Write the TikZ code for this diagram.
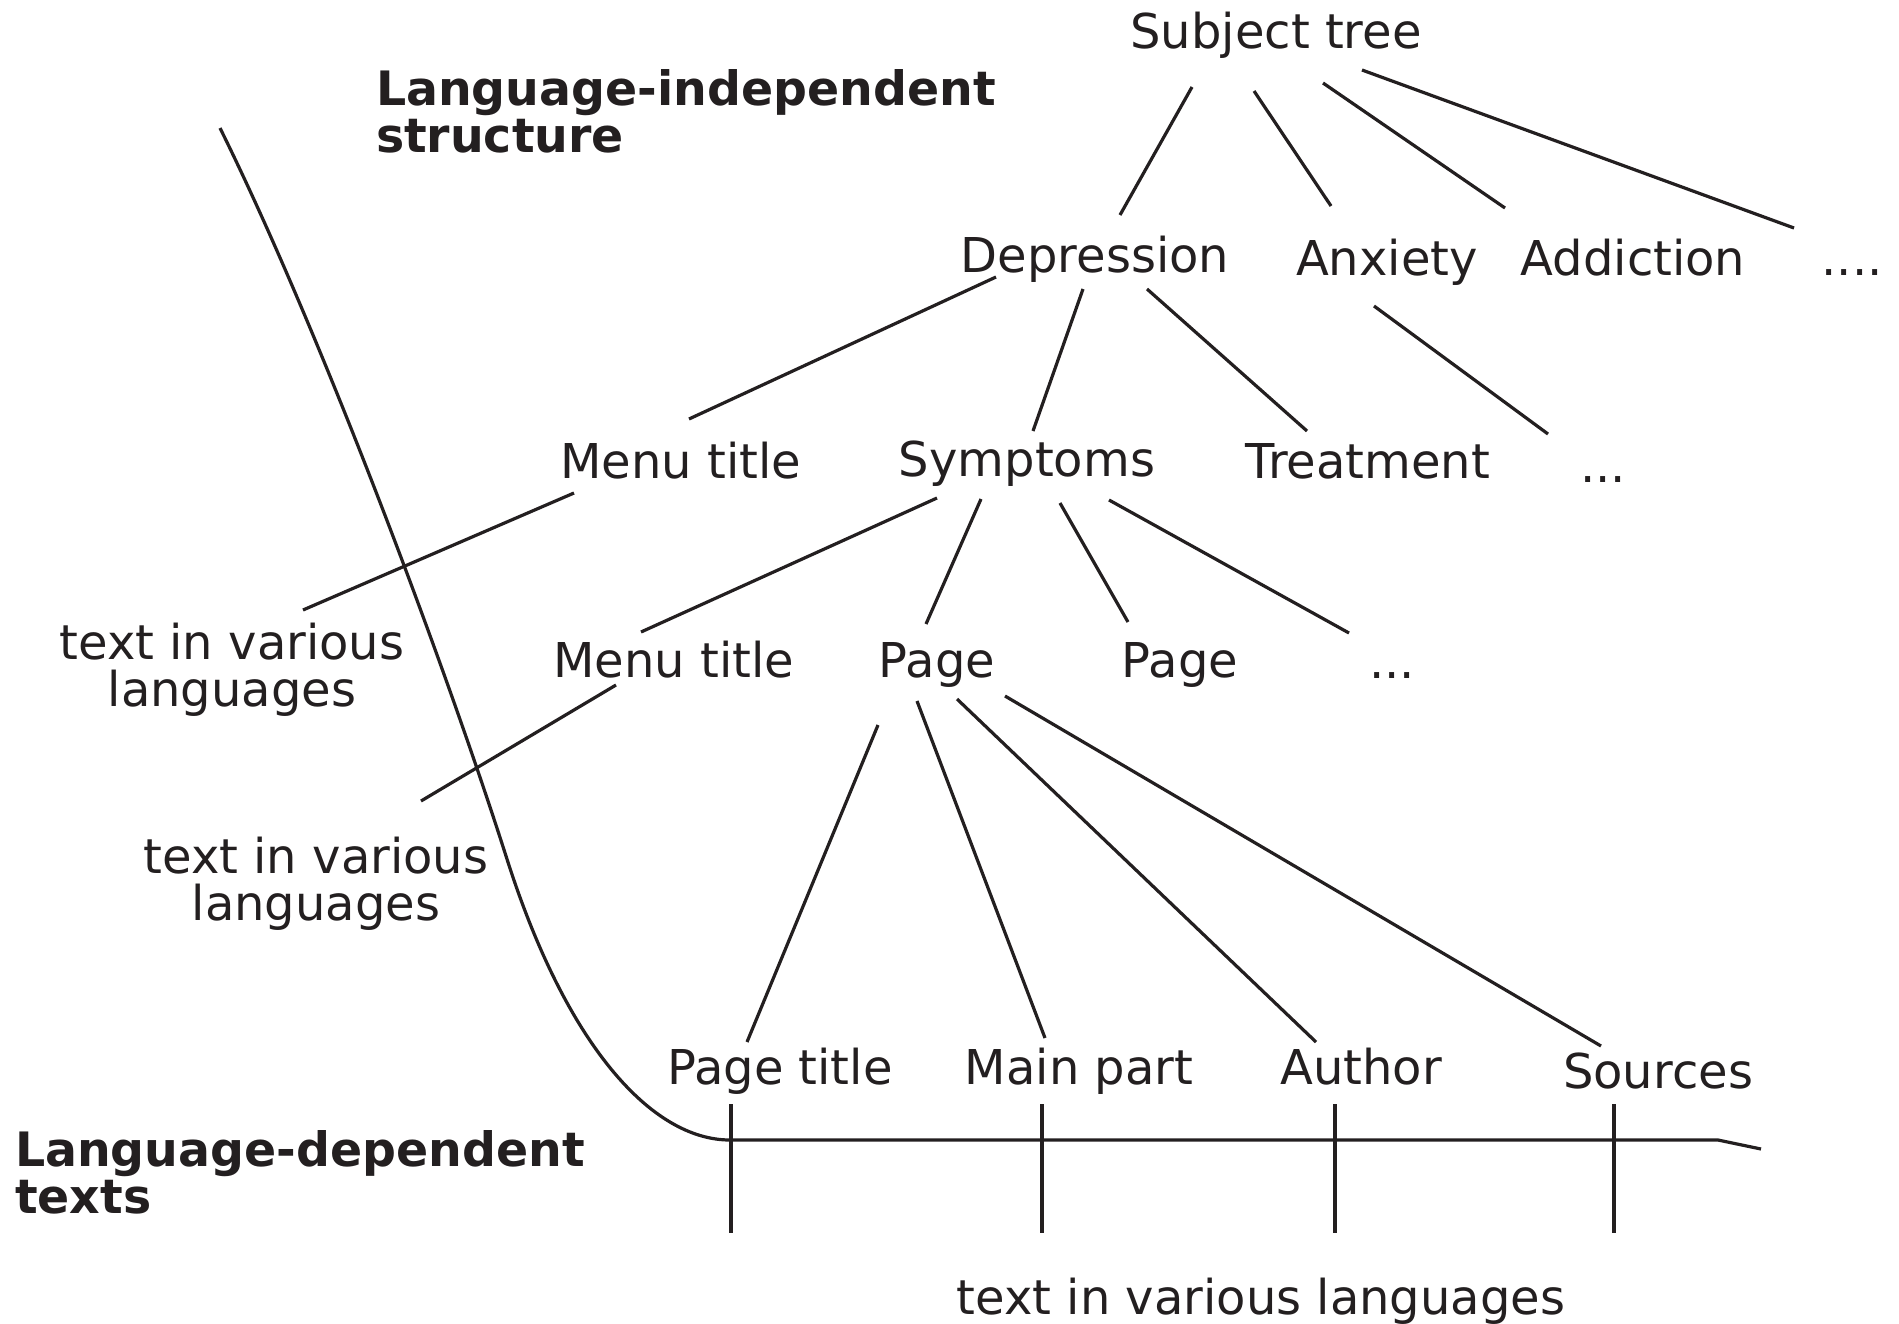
\documentclass[tikz,border=0pt]{standalone}
\usepackage{fontspec}
\setmainfont{DejaVu Sans}
\definecolor{ink}{RGB}{35,31,32}
\begin{document}
\begin{tikzpicture}[x=0.5pt,y=-0.5pt,
  every node/.style={inner sep=0pt,outer sep=0pt,text=ink,font=\fontsize{24}{23.5}\selectfont},
  lbl/.style={anchor=base},
  mlbl/.style={anchor=base,align=center},
  head/.style={anchor=base west,align=left,font=\fontsize{23.7}{23.5}\selectfont\bfseries},
  conn/.style={draw=ink,line width=1.6pt},
  rule/.style={draw=ink,line width=1.6pt}]
\path[use as bounding box] (0,0) rectangle (1899,1323);
% nodes (multi-line nodes are placed by the baseline of their last line)
\node[lbl] (st) at (1276,48) {Subject tree};
\node[head] (lid) at (376,152) {Language-independent\\structure};
\node[lbl] (dep) at (1095,272) {Depression};
\node[lbl] (anx) at (1387,275) {Anxiety};
\node[lbl] (add) at (1633,275) {Addiction};
\node[lbl] (d1) at (1852,275) {....};
\node[lbl] (menu1) at (681,478) {Menu title};
\node[lbl] (sym) at (1027,476) {Symptoms};
\node[lbl] (treat) at (1368,478) {Treatment};
\node[lbl] (d2) at (1603,482) {...};
\node[mlbl] (txt1) at (232,706) {text in various\\languages};
\node[lbl] (menu2) at (674,677) {Menu title};
\node[lbl] (page1) at (937,677) {Page};
\node[lbl] (page2) at (1180,677) {Page};
\node[lbl] (d3) at (1392,678) {...};
\node[mlbl] (txt2) at (316,920) {text in various\\languages};
\node[lbl] (ptitle) at (780,1084) {Page title};
\node[lbl] (main) at (1079,1084) {Main part};
\node[lbl] (author) at (1361,1084) {Author};
\node[lbl] (sources) at (1658,1088) {Sources};
\node[head] (ldt) at (15,1213) {Language-dependent\\texts};
\node[lbl] (bottom) at (1261,1314) {text in various languages};
% connectors
\draw[conn] ([shift={(-84,39)}]st.base) -- ([shift={(25,-57)}]dep.base);
\draw[conn] ([shift={(-22,43)}]st.base) -- ([shift={(-56,-69)}]anx.base);
\draw[conn] ([shift={(47,35)}]st.base) -- ([shift={(-128,-67)}]add.base);
\draw[conn] ([shift={(86,22)}]st.base) -- ([shift={(-58,-47)}]d1.base);
\draw[conn] ([shift={(-99,5)}]dep.base) -- ([shift={(8,-59)}]menu1.base);
\draw[conn] ([shift={(-12,17)}]dep.base) -- ([shift={(6,-45)}]sym.base);
\draw[conn] ([shift={(52,17)}]dep.base) -- ([shift={(-61,-47)}]treat.base);
\draw[conn] ([shift={(-13,31)}]anx.base) -- ([shift={(-55,-48)}]d2.base);
\draw[conn] ([shift={(-107,15)}]menu1.base) -- ([shift={(71,-96)}]txt1.base);
\draw[conn] ([shift={(-90,22)}]sym.base) -- ([shift={(-33,-45)}]menu2.base);
\draw[conn] ([shift={(-46,23)}]sym.base) -- ([shift={(-11,-53)}]page1.base);
\draw[conn] ([shift={(33,27)}]sym.base) -- ([shift={(-52,-55)}]page2.base);
\draw[conn] ([shift={(82,24)}]sym.base) -- ([shift={(-43,-45)}]d3.base);
\draw[conn] ([shift={(-58,8)}]menu2.base) -- ([shift={(105,-119)}]txt2.base);
\draw[conn] ([shift={(-59,48)}]page1.base) -- ([shift={(-33,-42)}]ptitle.base);
\draw[conn] ([shift={(-20,24)}]page1.base) -- ([shift={(-34,-46)}]main.base);
\draw[conn] ([shift={(20,22)}]page1.base) -- ([shift={(-45,-42)}]author.base);
\draw[conn] ([shift={(68,19)}]page1.base) -- ([shift={(-57,-42)}]sources.base);
% separator curve and baseline
\draw[rule,line join=round] (220,128) .. controls (320,330) and (445,665) .. (506,856)
  .. controls (566,1046) and (652,1140) .. (730,1140) -- (1718,1140) -- (1761,1149);
\foreach \tx in {731,1042,1335,1614}
  \draw[rule] (\tx,1104) -- (\tx,1233);
\end{tikzpicture}
\end{document}
